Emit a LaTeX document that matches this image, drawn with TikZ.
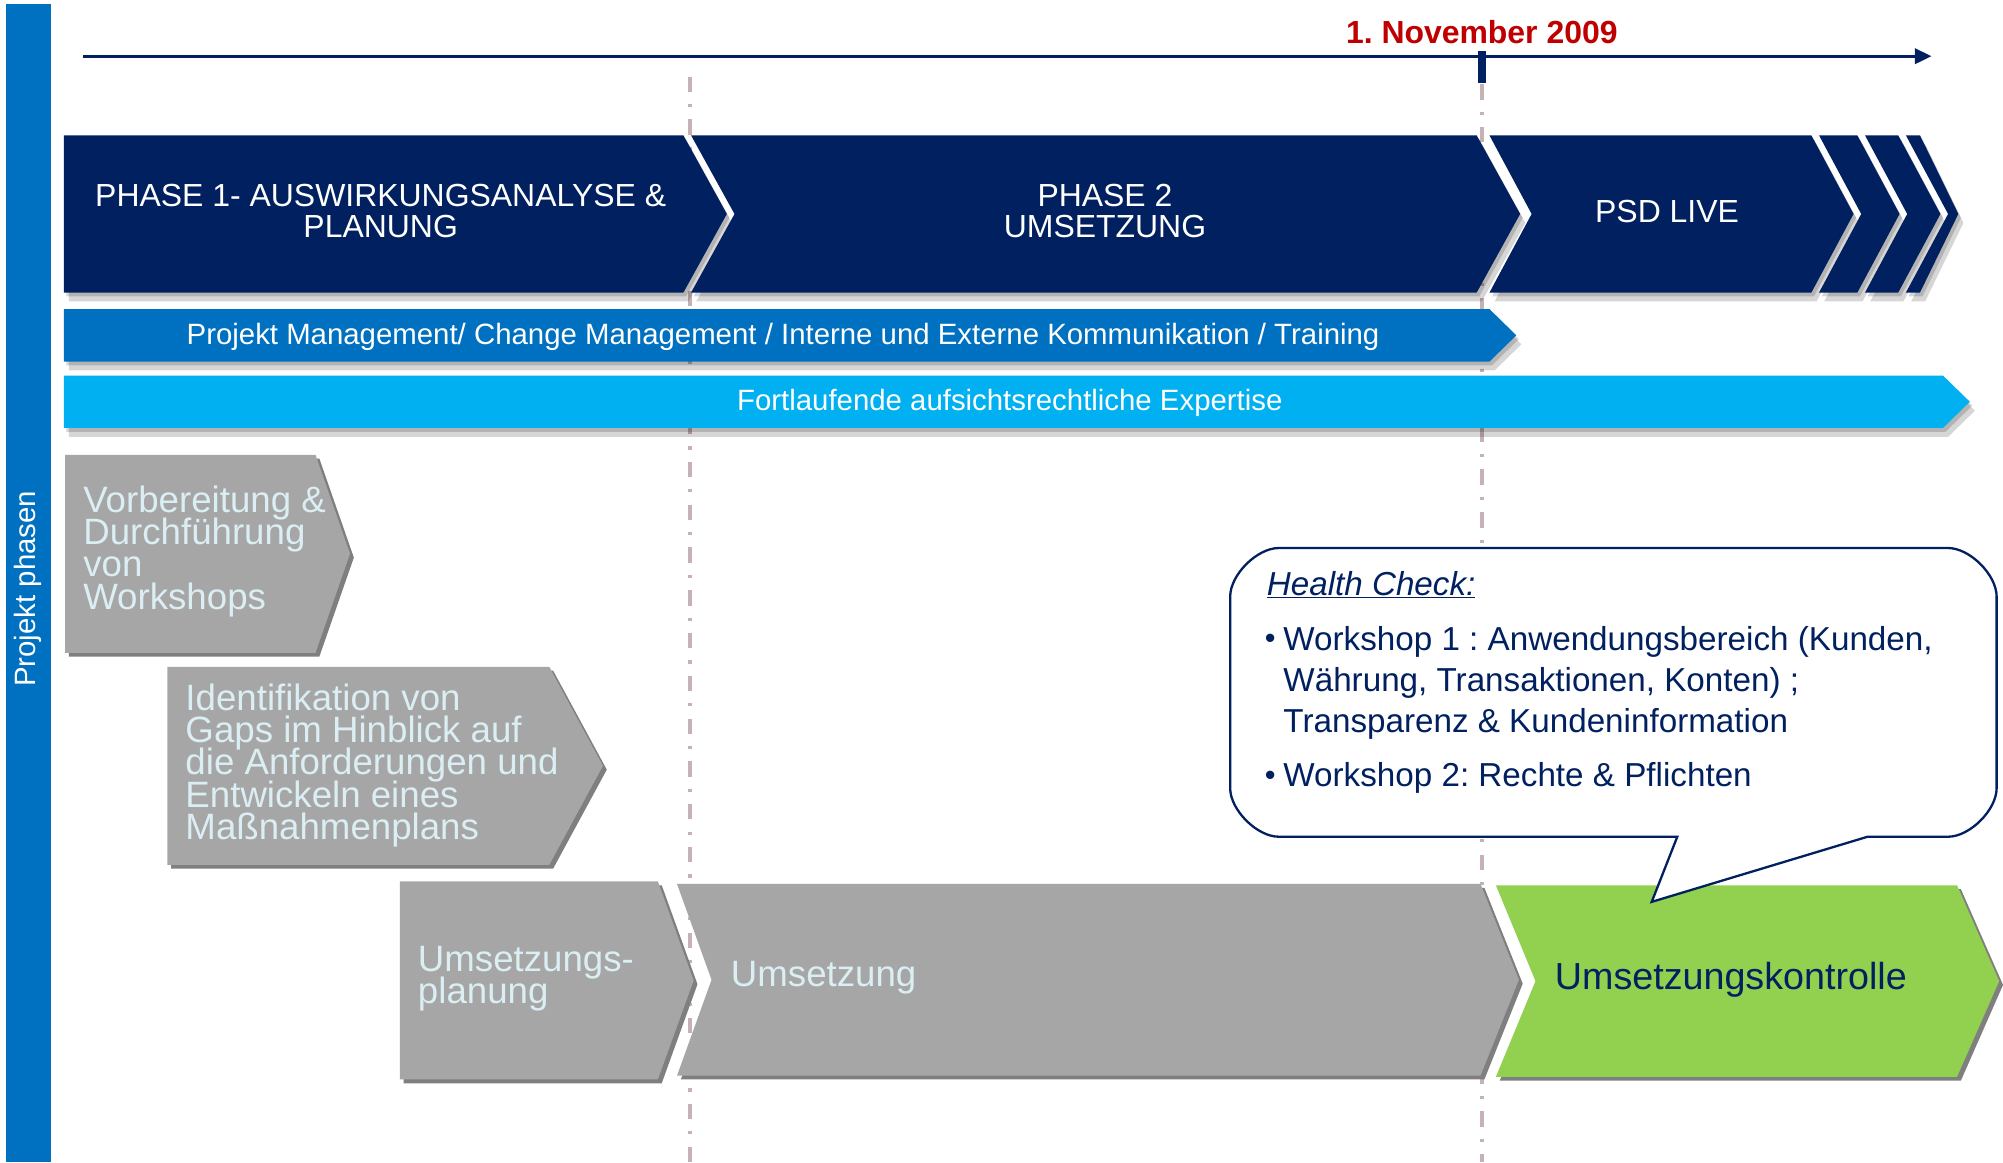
\documentclass[tikz,border=0pt]{standalone}
\usepackage{fontspec}
\setmainfont{Liberation Sans}
\usetikzlibrary{arrows.meta}
\definecolor{navy}{HTML}{002060}
\definecolor{midblue}{HTML}{0070C0}
\definecolor{skyblue}{HTML}{00B0F0}
\definecolor{boxgray}{HTML}{A6A6A6}
\definecolor{shadowgray}{HTML}{7F7F7F}
\definecolor{limegreen}{HTML}{92D050}
\definecolor{datered}{HTML}{C00000}
\definecolor{paletext}{HTML}{DAEEF3}
\definecolor{dashcol}{RGB}{198,178,182}
\begin{document}
\lineskiplimit=-100pt
\frenchspacing
\begin{tikzpicture}[x=1pt,y=-1pt,
  softshadow/.style={fill=black,opacity=0.16},
  hardshadow/.style={fill=shadowgray},
  navyfill/.style={fill=navy},
  midfill/.style={fill=midblue},
  skyfill/.style={fill=skyblue},
  grayfill/.style={fill=boxgray},
  greenfill/.style={fill=limegreen},
  guide/.style={draw=dashcol,line width=2.8pt,dash pattern=on 12pt off 9.5pt on 2.5pt off 9.5pt},
  phasetext/.style={text=white,font=\fontsize{25}{24}\selectfont,align=center,inner sep=0pt},
  bartext/.style={text=white,font=\fontsize{23}{26}\selectfont,inner sep=0pt,anchor=base},
  graytext/.style={text=paletext,font=\fontsize{28.7}{25.3}\selectfont,align=left,inner sep=0pt,anchor=north west},
  calltext/.style={text=navy,font=\fontsize{26}{32}\selectfont,align=left,inner sep=0pt},
  bullettext/.style={text=navy,font=\fontsize{24}{26}\selectfont,anchor=base west,inner sep=0pt},
]
\useasboundingbox (0,0) rectangle (1568,910);
\fill[white] (0,0) rectangle (1568,910);

% guide lines
\coordinate (g1top) at (540,60); \coordinate (g1bot) at (540,910);
\coordinate (g2top) at (1160,66); \coordinate (g2bot) at (1160,910);
\draw[guide] (g1top) -- (g1bot);
\draw[guide] (g2top) -- (g2bot);

% left bar
\fill[midblue] (5,3) rectangle (40,910);
\node[rotate=90,text=white,font=\fontsize{23}{26}\selectfont,inner sep=0pt] (side) at (22,461) {Projekt phasen};

% timeline
\coordinate (tlA) at (65,44); \coordinate (tlB) at (1512,44);
\draw[navy,line width=2.2pt,-{Triangle[length=13pt,width=12pt]}] (tlA) -- (tlB);
\coordinate (tk1) at (1160,40); \coordinate (tk2) at (1160,65);
\draw[navy,line width=6pt] (tk1) -- (tk2);
\node[text=datered,font=\fontsize{25}{28}\selectfont\bfseries,anchor=base,inner sep=0pt] (date) at (1160,34) {1. November 2009};

% phase band
\foreach \dx/\dy/\st in {4/7/softshadow,2/3/softshadow,0/0/navyfill}{
  \fill[\st,shift={(\dx,\dy)}]
    (50,106) -- (535,106) -- (569,167.5) -- (535,229) -- (50,229) -- cycle
    (541,106) -- (1156,106) -- (1190,167.5) -- (1156,229) -- (541,229) -- (575,167.5) -- cycle
    (1166,106) -- (1418,106) -- (1451,167.5) -- (1418,229) -- (1166,229) -- (1199,167.5) -- cycle
    (1424,106) -- (1454,106) -- (1487,167.5) -- (1454,229) -- (1424,229) -- (1457,167.5) -- cycle
    (1460,106) -- (1486,106) -- (1519,167.5) -- (1486,229) -- (1460,229) -- (1493,167.5) -- cycle
    (1492,106) -- (1503,106) -- (1533,167.5) -- (1503,229) -- (1492,229) -- (1525,167.5) -- cycle;
}
\node[phasetext] (ph1) at (298,165) {PHASE 1- AUSWIRKUNGSANALYSE \&\\PLANUNG};
\node[phasetext] (ph2) at (865,165) {PHASE 2\\UMSETZUNG};
\node[phasetext,anchor=base] (ph3) at (1305,174) {PSD LIVE};

% management bar
\foreach \dx/\dy/\st in {4/7/softshadow,2/3/softshadow,0/0/midfill}{
  \fill[\st,shift={(\dx,\dy)}] (50,242) -- (1166,242) -- (1187,262.5) -- (1166,283) -- (50,283) -- cycle;
}
\node[bartext] (pm) at (613,269.5) {Projekt Management/ Change Management / Interne und Externe Kommunikation / Training};

% expertise bar
\foreach \dx/\dy/\st in {4/7/softshadow,2/3/softshadow,0/0/skyfill}{
  \fill[\st,shift={(\dx,\dy)}] (50,294) -- (1521,294) -- (1542,314.5) -- (1521,335) -- (50,335) -- cycle;
}
\node[bartext] (exp) at (790.5,321) {Fortlaufende aufsichtsrechtliche Expertise};

% gray steps
\foreach \dx/\dy/\st in {3/3/hardshadow,0/0/grayfill}{
  \fill[\st,shift={(\dx,\dy)}]
    (51,356) -- (247,356) -- (274,433.5) -- (247,511) -- (51,511) -- cycle
    (131,522) -- (430,522) -- (472,599.5) -- (430,677) -- (131,677) -- cycle
    (313,690) -- (515,690) -- (543,767.5) -- (515,845) -- (313,845) -- cycle
    (530,692) -- (1159,692) -- (1189,767) -- (1159,842) -- (530,842) -- (557,767) -- cycle;
}
\foreach \dx/\dy/\st in {3/3/hardshadow,0/0/greenfill}{
  \fill[\st,shift={(\dx,\dy)}]
    (1171,693) -- (1532,693) -- (1565,768) -- (1532,843) -- (1171,843) -- (1202,768) -- cycle;
}
\node[graytext] (t1) at (65,380) {Vorbereitung \&\\Durchführung\\von\\Workshops};
\node[graytext] (t2) at (145,535) {Identifikation von\\Gaps im Hinblick auf\\die Anforderungen und\\Entwickeln eines\\Maßnahmenplans};
\node[graytext] (t3) at (327,740.5) {Umsetzungs-\\planung};
\node[text=paletext,font=\fontsize{28.7}{30}\selectfont,anchor=base west,inner sep=0pt] (t4) at (572,772) {Umsetzung};
\node[text=navy,font=\fontsize{29.5}{32}\selectfont,anchor=base west,inner sep=0pt] (t5) at (1217,774.5) {Umsetzungskontrolle};

% callout
\draw[draw=navy,fill=white,line width=1.8pt,line join=miter]
  (1313,655) -- (1001,655) .. controls (984,655) and (963,634) .. (963,617)
  -- (963,467) .. controls (963,450) and (984,429) .. (1001,429)
  -- (1525,429) .. controls (1542,429) and (1563,450) .. (1563,467)
  -- (1563,617) .. controls (1563,634) and (1542,655) .. (1525,655)
  -- (1462,655) -- (1293,706) -- cycle;
\node[calltext,anchor=base west] (hc) at (991.5,466) {\underline{\textit{Health Check:}}};
\node[bullettext] (bul1) at (990,508) {\textbullet};
\node[calltext,anchor=north west] (it1) at (1004.5,490) {Workshop 1 : Anwendungsbereich (Kunden,\\Währung, Transaktionen, Konten) ;\\Transparenz \& Kundeninformation};
\node[bullettext] (bul2) at (990,615) {\textbullet};
\node[calltext,anchor=base west] (it2) at (1004.5,616) {Workshop 2: Rechte \& Pflichten};
\end{tikzpicture}
\end{document}
